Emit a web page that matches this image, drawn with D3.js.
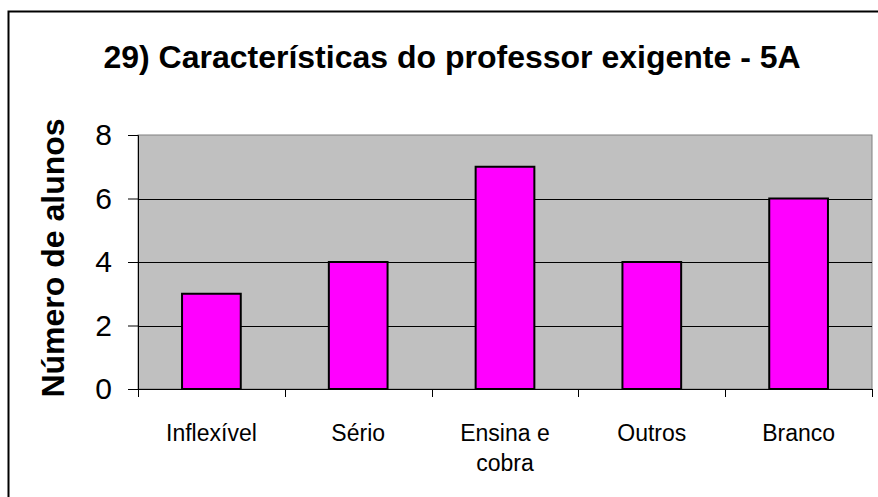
<!DOCTYPE html>
<html>
<head>
<meta charset="utf-8">
<script src="https://cdn.jsdelivr.net/npm/d3@7"></script>
<style>
  html, body { margin: 0; padding: 0; background: #fff; }
  svg { display: block; font-family: "Liberation Sans", Arial, sans-serif; }
</style>
</head>
<body>
<svg id="chart" width="878" height="497"></svg>
<script>
// Survey answers: number of students per characteristic
const categories = ["Inflexível", "Sério", "Ensina e cobra", "Outros", "Branco"];
const categoryLines = [["Inflexível"], ["Sério"], ["Ensina e", "cobra"], ["Outros"], ["Branco"]];
const values = [3, 4, 7, 4, 6];
const yTicks = [0, 2, 4, 6, 8];
const titleText = "29) Características do professor exigente - 5A";
const yTitleText = "Número de alunos";

const svg = d3.select("#chart");

// Chart frame (runs off the right and bottom edges)
svg.append("rect")
  .attr("x", 8.5).attr("y", 11.5)
  .attr("width", 900).attr("height", 520)
  .attr("fill", "#fff").attr("stroke", "#000").attr("stroke-width", 2);

const plot = { left: 138, right: 872, top: 135, bottom: 389 };

const x = d3.scaleBand()
  .domain(categories)
  .range([plot.left, plot.right])
  .paddingInner(0.6).paddingOuter(0.3);

const y = d3.scaleLinear().domain([0, 8]).range([plot.bottom, plot.top]);

// Plot background
svg.append("rect")
  .attr("x", plot.left).attr("y", plot.top)
  .attr("width", plot.right - plot.left).attr("height", plot.bottom - plot.top)
  .attr("fill", "#c0c0c0").attr("stroke", "#808080").attr("stroke-width", 1);

// Horizontal gridlines
svg.append("g").selectAll("line")
  .data(yTicks.filter(d => d > 0 && d < 8))
  .join("line")
  .attr("x1", plot.left).attr("x2", plot.right)
  .attr("y1", d => Math.round(y(d)) + 0.5).attr("y2", d => Math.round(y(d)) + 0.5)
  .attr("stroke", "#000").attr("stroke-width", 1);

// Bars
svg.append("g").selectAll("rect")
  .data(values)
  .join("rect")
  .attr("x", (d, i) => x(categories[i]))
  .attr("y", d => y(d))
  .attr("width", x.bandwidth())
  .attr("height", d => y(0) - y(d))
  .attr("fill", "#ff00ff").attr("stroke", "#000").attr("stroke-width", 2);

// Y axis
const yAxis = d3.axisLeft(y).tickValues(yTicks).tickSize(10).tickPadding(16);
const gy = svg.append("g").attr("transform", `translate(${plot.left},0)`).call(yAxis);
gy.select(".domain").attr("stroke", "#000");
gy.selectAll(".tick line").attr("stroke", "#000");
gy.selectAll(".tick text")
  .attr("font-size", 30).attr("fill", "#000")
  .attr("font-family", "Liberation Sans, Arial, sans-serif");

// X axis: ticks at category boundaries
const step = (plot.right - plot.left) / categories.length;
const bounds = d3.range(categories.length + 1).map(i => plot.left + i * step);
svg.append("line")
  .attr("x1", plot.left).attr("x2", plot.right)
  .attr("y1", plot.bottom + 0.5).attr("y2", plot.bottom + 0.5)
  .attr("stroke", "#000");
svg.append("g").selectAll("line")
  .data(bounds)
  .join("line")
  .attr("x1", d => Math.round(d) + 0.5).attr("x2", d => Math.round(d) + 0.5)
  .attr("y1", plot.bottom).attr("y2", plot.bottom + 8)
  .attr("stroke", "#000");

// Category labels
const xl = svg.append("g").selectAll("text")
  .data(categories)
  .join("text")
  .attr("x", d => x(d) + x.bandwidth() / 2)
  .attr("y", 441)
  .attr("text-anchor", "middle")
  .attr("font-size", 23)
  .attr("fill", "#000");
xl.each(function(d, i) {
  d3.select(this).selectAll("tspan")
    .data(categoryLines[i])
    .join("tspan")
    .attr("x", x(d) + x.bandwidth() / 2)
    .attr("dy", (t, j) => j === 0 ? 0 : 30)
    .text(t => t);
});

// Title
svg.append("text")
  .attr("x", 452).attr("y", 68)
  .attr("text-anchor", "middle")
  .attr("font-size", 32).attr("font-weight", "bold")
  .text(titleText);

// Y axis title
svg.append("text")
  .attr("transform", `translate(64,258) rotate(-90)`)
  .attr("text-anchor", "middle")
  .attr("font-size", 32).attr("font-weight", "bold")
  .text(yTitleText);
</script>
</body>
</html>
